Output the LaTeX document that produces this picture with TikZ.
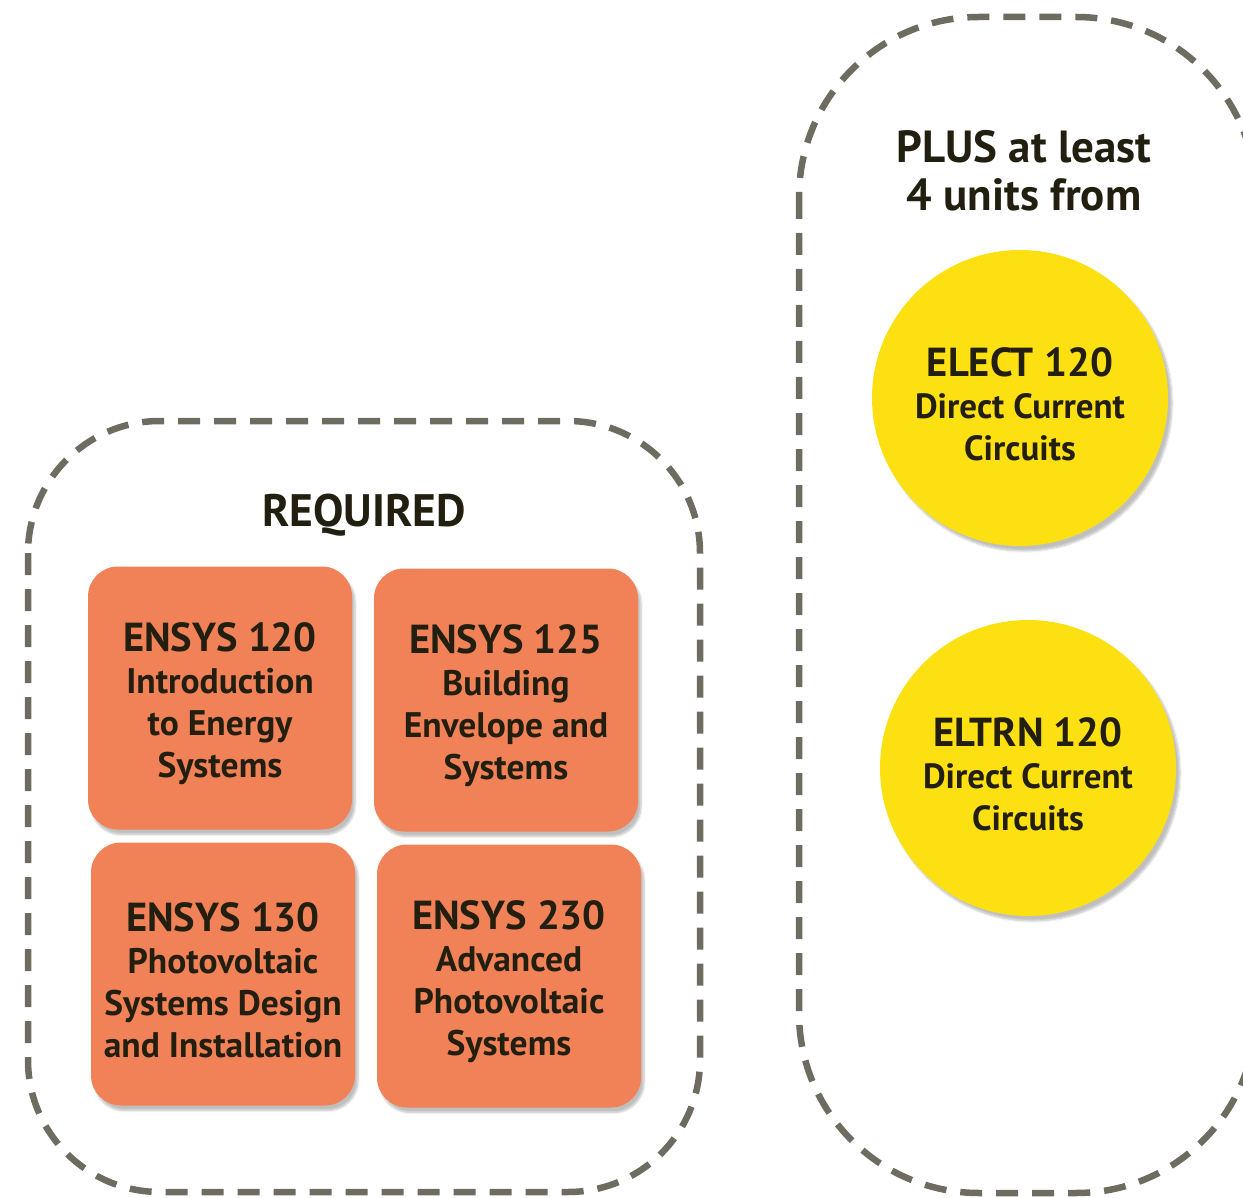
\documentclass[tikz,border=0pt]{standalone}
\usepackage{fontspec}
\setmainfont{PT Sans}
\usepackage{tikz}
\usetikzlibrary{shadows.blur}

\definecolor{framegray}{HTML}{6E6C60}
\definecolor{courseorange}{HTML}{F18157}
\definecolor{electyellow}{HTML}{FDE012}
\definecolor{inkdark}{HTML}{231F10}

% course code line, a little taller so the text block sits lower
\newcommand{\coursecode}[1]{{\fontsize{40.5}{42}\selectfont\rule{0pt}{41pt}#1}}

\tikzset{
  frame/.style={draw=framegray, line width=6.5pt, dash pattern=on 22pt off 14pt},
  heading/.style={align=center, text=inkdark, font=\bfseries\fontsize{45}{48}\selectfont},
  course/.style={rectangle, rounded corners=30pt, fill=courseorange,
    minimum width=264pt, minimum height=263pt, align=center, text=inkdark,
    font=\bfseries\fontsize{35.5}{42}\selectfont,
    blur shadow={shadow xshift=3pt, shadow yshift=-5pt, shadow blur steps=6, shadow opacity=25}},
  elective/.style={circle, fill=electyellow, minimum size=296pt, inner sep=0pt,
    align=center, text=inkdark, font=\bfseries\fontsize{35}{42}\selectfont,
    blur shadow={shadow xshift=4pt, shadow yshift=-5pt, shadow blur steps=6, shadow opacity=25}}
}

\begin{document}
\begin{tikzpicture}[x=1pt, y=-1pt]
  \useasboundingbox (0,0) rectangle (1243,1198);
  \clip (0,0) rectangle (1243,1198);

  % dashed groups
  \draw[frame, rounded corners=132pt] (28,421) rectangle (700,1192);
  \draw[frame, rounded corners=180pt] (799,17) rectangle (1256,1193);

  % required courses
  \node[heading, font=\bfseries\fontsize{45.5}{48}\selectfont] (required) at (364,515) {REQUIRED};
  \node[course] (ensys120) at (220,698) {\coursecode{ENSYS 120}\\Introduction\\to Energy\\Systems};
  \node[course] (ensys125) at (506,700) {\coursecode{ENSYS 125}\\Building\\Envelope and\\Systems};
  \node[course] (ensys130) at (223,974) {\coursecode{ENSYS 130}\\Photovoltaic\\Systems Design\\and Installation};
  \node[course] (ensys230) at (509,976) {\coursecode{ENSYS 230}\\Advanced\\Photovoltaic\\Systems};

  % electives
  \node[heading] (plus) at (1024,171) {PLUS at least\\4 units from};
  \node[elective] (elect120) at (1020,398) {\coursecode{ELECT 120}\\Direct Current\\Circuits};
  \node[elective] (eltrn120) at (1028,768) {\coursecode{ELTRN 120}\\Direct Current\\Circuits};
\end{tikzpicture}
\end{document}
